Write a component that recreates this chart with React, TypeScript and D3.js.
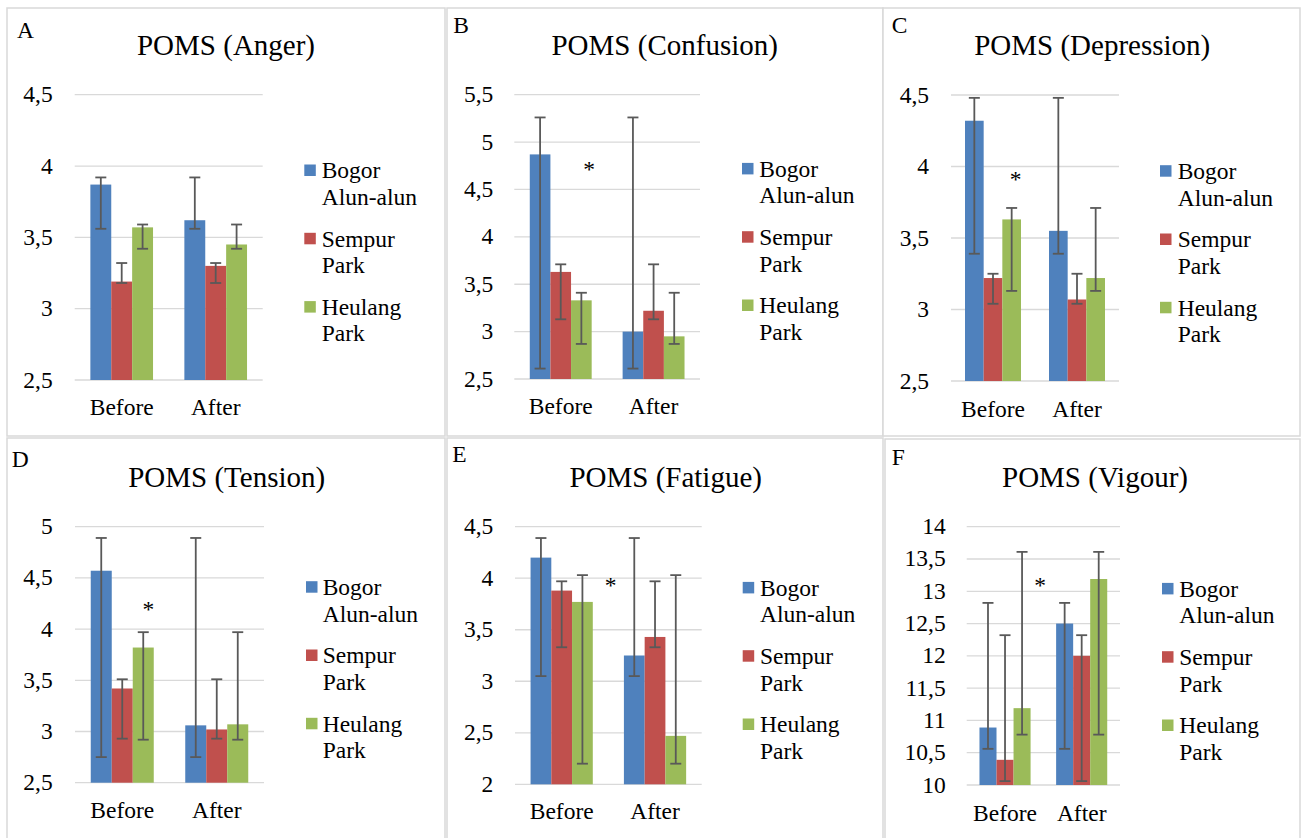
import React from "react";
import * as d3 from "d3";

// ---------- DATA ----------
const categories = ["Before", "After"];
const seriesNames = ["Bogor Alun-alun", "Sempur Park", "Heulang Park"];
const legendLines = [["Bogor", "Alun-alun"], ["Sempur", "Park"], ["Heulang", "Park"]];
const seriesColors = ["#4F81BD", "#C0504D", "#9BBB59"];
const panelLetters = ["A", "B", "C", "D", "E", "F"];
const panelTitles = [
  "POMS (Anger)",
  "POMS (Confusion)",
  "POMS (Depression)",
  "POMS (Tension)",
  "POMS (Fatigue)",
  "POMS (Vigour)",
];

// values are [series][category]
const angerMeans = [[3.87, 3.62], [3.19, 3.30], [3.57, 3.45]];
const angerErrHigh = [[3.92, 3.92], [3.32, 3.32], [3.59, 3.59]];
const angerErrLow = [[3.56, 3.56], [3.18, 3.18], [3.42, 3.42]];
const angerTicks = [2.5, 3, 3.5, 4, 4.5];

const confusionMeans = [[4.87, 3.0], [3.63, 3.22], [3.33, 2.95]];
const confusionErrHigh = [[5.26, 5.26], [3.71, 3.71], [3.41, 3.41]];
const confusionErrLow = [[2.61, 2.61], [3.13, 3.13], [2.87, 2.87]];
const confusionTicks = [2.5, 3, 3.5, 4, 4.5, 5, 5.5];

const depressionMeans = [[4.32, 3.55], [3.22, 3.07], [3.63, 3.22]];
const depressionErrHigh = [[4.48, 4.48], [3.25, 3.25], [3.71, 3.71]];
const depressionErrLow = [[3.39, 3.39], [3.04, 3.04], [3.13, 3.13]];
const depressionTicks = [2.5, 3, 3.5, 4, 4.5];

const tensionMeans = [[4.57, 3.06], [3.42, 3.02], [3.82, 3.07]];
const tensionErrHigh = [[4.89, 4.89], [3.51, 3.51], [3.97, 3.97]];
const tensionErrLow = [[2.75, 2.75], [2.93, 2.93], [2.92, 2.92]];
const tensionTicks = [2.5, 3, 3.5, 4, 4.5, 5];

const fatigueMeans = [[4.2, 3.25], [3.88, 3.43], [3.77, 2.47]];
const fatigueErrHigh = [[4.39, 4.39], [3.97, 3.97], [4.03, 4.03]];
const fatigueErrLow = [[3.05, 3.05], [3.33, 3.33], [2.2, 2.2]];
const fatigueTicks = [2, 2.5, 3, 3.5, 4, 4.5];

const vigourMeans = [[10.89, 12.5], [10.39, 12.0], [11.19, 13.19]];
const vigourErrHigh = [[12.82, 12.82], [12.32, 12.32], [13.61, 13.61]];
const vigourErrLow = [[10.56, 10.56], [10.06, 10.06], [10.78, 10.78]];
const vigourTicks = [10, 10.5, 11, 11.5, 12, 12.5, 13, 13.5, 14];

const panelData = [
  { means: angerMeans, hi: angerErrHigh, lo: angerErrLow, ticks: angerTicks },
  { means: confusionMeans, hi: confusionErrHigh, lo: confusionErrLow, ticks: confusionTicks },
  { means: depressionMeans, hi: depressionErrHigh, lo: depressionErrLow, ticks: depressionTicks },
  { means: tensionMeans, hi: tensionErrHigh, lo: tensionErrLow, ticks: tensionTicks },
  { means: fatigueMeans, hi: fatigueErrHigh, lo: fatigueErrLow, ticks: fatigueTicks },
  { means: vigourMeans, hi: vigourErrHigh, lo: vigourErrLow, ticks: vigourTicks },
];

// ---------- LAYOUT ----------
const layouts = [
  { box: [7, 8, 445, 436], L: 74.7, R: 262.7, yT: 94.7, yB: 380, tickR: 52.7, catY: 415, titleX: 226, titleY: 55, letterX: 17, letterY: 38, legSq: 304.3, legTx: 321.7, legY: 178.3, star: null },
  { box: [447, 8, 883, 436], L: 514.3, R: 700, yT: 94.7, yB: 379, tickR: 493.3, catY: 414.3, titleX: 664.7, titleY: 55, letterX: 453.3, letterY: 33.3, legSq: 742, legTx: 759.3, legY: 176.7, star: [589, 177.3] },
  { box: [883, 8, 1300, 436], L: 951, R: 1119, yT: 95, yB: 381, tickR: 929, catY: 416.7, titleX: 1092.2, titleY: 55, letterX: 891.7, letterY: 33.3, legSq: 1160, legTx: 1177.7, legY: 179, star: [1015.7, 186.6] },
  { box: [7, 438, 445, 845], L: 75, R: 264, yT: 526.7, yB: 782.7, tickR: 52.7, catY: 818.3, titleX: 226.7, titleY: 486.7, letterX: 11.7, letterY: 466.7, legSq: 306, legTx: 322.7, legY: 595, star: [148.3, 616.6] },
  { box: [447, 438, 883, 845], L: 515, R: 701.7, yT: 526.7, yB: 784.3, tickR: 493.3, catY: 819.3, titleX: 665.7, titleY: 486.7, letterX: 452.3, letterY: 461.7, legSq: 742.7, legTx: 760, legY: 595.7, star: [610.7, 593.3] },
  { box: [885, 439, 1300, 845], L: 966.7, R: 1120, yT: 526.7, yB: 785, tickR: 945.7, catY: 821, titleX: 1095, titleY: 486.7, letterX: 891.7, letterY: 465, legSq: 1162, legTx: 1179.3, legY: 596.7, star: [1040, 593.3] },
];

const FONT = "Liberation Serif";
const FS = 23.5;
const fmt = (v: number) => d3.format("~g")(v).replace(".", ",");

function Panel({ idx }: { idx: number }) {
  const d = panelData[idx];
  const lay = layouts[idx];
  const ticks = d.ticks;
  const y = d3.scaleLinear().domain([ticks[0], ticks[ticks.length - 1]]).range([lay.yB, lay.yT]);
  const x0 = d3.scaleBand().domain(categories).range([lay.L, lay.R]).paddingInner(0).paddingOuter(0);
  const x1 = d3.scaleBand().domain(seriesNames).range([0, x0.bandwidth()]).paddingInner(0).paddingOuter(0.75);
  const [bx0, by0, bx1, by1] = lay.box;
  return (
    <g>
      <rect x={bx0} y={by0} width={bx1 - bx0} height={by1 - by0} fill="white" stroke="#d9d9d9" strokeWidth={1.5} />
      <text x={lay.letterX} y={lay.letterY} fontSize={FS} fontFamily={FONT}>{panelLetters[idx]}</text>
      <text x={lay.titleX} y={lay.titleY} fontSize={29} fontFamily={FONT} textAnchor="middle">{panelTitles[idx]}</text>
      {ticks.map((t) => (
        <g key={t}>
          <line x1={lay.L} x2={lay.R} y1={y(t)} y2={y(t)} stroke="#d9d9d9" strokeWidth={1.3} />
          <text x={lay.tickR} y={y(t) + 7.5} fontSize={FS} fontFamily={FONT} textAnchor="end">{fmt(t)}</text>
        </g>
      ))}
      {seriesNames.map((s, si) =>
        categories.map((c, ci) => {
          const v = d.means[si][ci];
          const bx = (x0(c) as number) + (x1(s) as number);
          const bw = x1.bandwidth();
          return (
            <rect key={s + c} x={bx} y={y(v)} width={bw} height={y(ticks[0]) - y(v)} fill={seriesColors[si]} />
          );
        })
      )}
      {seriesNames.map((s, si) =>
        categories.map((c, ci) => {
          const cx = (x0(c) as number) + (x1(s) as number) + x1.bandwidth() / 2;
          const yh = y(d.hi[si][ci]);
          const yl = y(d.lo[si][ci]);
          return (
            <g key={"e" + s + c} stroke="#595959" strokeWidth={1.8}>
              <line x1={cx} x2={cx} y1={yh} y2={yl} />
              <line x1={cx - 5.5} x2={cx + 5.5} y1={yh} y2={yh} />
              <line x1={cx - 5.5} x2={cx + 5.5} y1={yl} y2={yl} />
            </g>
          );
        })
      )}
      {categories.map((c) => (
        <text key={c} x={(x0(c) as number) + x0.bandwidth() / 2} y={lay.catY} fontSize={FS} fontFamily={FONT} textAnchor="middle">{c}</text>
      ))}
      {lay.star && (
        <text x={lay.star[0]} y={lay.star[1]} fontSize={FS} fontFamily={FONT} textAnchor="middle">*</text>
      )}
      {seriesNames.map((s, si) => {
        const by = lay.legY + si * 68.3;
        return (
          <g key={"l" + s}>
            <rect x={lay.legSq} y={by - 13.8} width={11.5} height={11.5} fill={seriesColors[si]} />
            <text x={lay.legTx} y={by} fontSize={FS} fontFamily={FONT}>{legendLines[si][0]}</text>
            <text x={lay.legTx} y={by + 26.5} fontSize={FS} fontFamily={FONT}>{legendLines[si][1]}</text>
          </g>
        );
      })}
    </g>
  );
}

export default function App() {
  return (
    <svg width={1301} height={838} style={{ position: "absolute", left: 0, top: 0, background: "white" }}>
      <rect x={0} y={0} width={1301} height={838} fill="white" />
      {panelData.map((_, i) => (
        <Panel key={i} idx={i} />
      ))}
    </svg>
  );
}
